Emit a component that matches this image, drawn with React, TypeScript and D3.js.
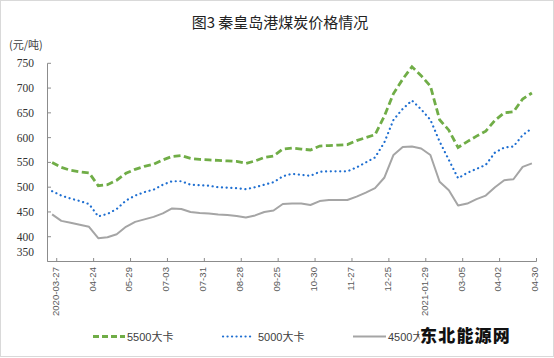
import React from "react";
import * as d3 from "d3";

const dates = [
  "2020-03-27", "", "", "", "04-24", "", "", "", "05-29", "", "", "", "07-03", "", "", "", "07-31", "", "", "", "08-28", "", "", "", "09-25", "", "", "", "10-30", "", "", "", "11-27", "", "", "", "12-25", "", "", "", "2021-01-29", "", "", "", "03-05", "", "", "", "04-02", "", "", "", "04-30",
];

const s5500 = [
  550, 540, 534, 531, 529, 503, 505, 514, 528, 536, 542, 546, 555, 562, 564, 558, 556, 555, 554, 553, 552, 548, 553, 560, 563, 577, 579, 577,
  575, 583, 584, 585, 586, 594, 600, 606, 643, 689, 718, 743, 725, 704, 636, 615, 580, 592, 603, 613, 635, 650, 652, 678, 690,
];

const s5000 = [
  492, 483, 477, 472, 466, 441, 446, 456, 473, 483, 490, 495, 505, 512, 512, 505, 504, 503, 500, 499, 498, 496, 500, 505, 510, 522, 527, 525,
  523, 531, 532, 532, 532, 540, 550, 560, 590, 636, 658, 675, 657, 636, 592, 555, 518, 529, 537, 545, 570, 580, 582, 605, 619,
];

const s4500 = [
  445, 432, 428, 424, 420, 397, 399, 405, 420, 430, 435, 440, 447, 457, 456, 450, 448, 447, 445, 444, 442, 439, 443, 450, 453, 466, 467, 467,
  464, 472, 474, 474, 474, 481, 489, 498, 519, 565, 581, 582, 578, 565, 511, 494, 463, 467, 476, 483, 500, 514, 516, 541, 548,
];

const yTicks = [350, 400, 450, 500, 550, 600, 650, 700, 750];

const seriesNames = ["5500大卡", "5000大卡", "4500大卡"];

export default function App() {
  const W = 554;
  const H = 358;
  const idx = d3.range(dates.length);
  const x = d3.scaleBand<number>().domain(idx).range([47.5, 536.5]).padding(0);
  const bw = x.bandwidth();
  const cx = (i: number) => (x(i) as number) + bw / 2;
  const y = d3.scaleLinear().domain([350, 750]).range([261.5, 63.3]);
  const line = d3
    .line<number>()
    .x((_, i) => cx(i))
    .y((d) => y(d));

  const axisColor = "#8c8c8c";
  const labelIdx = idx.filter((i) => dates[i] !== "");

  return (
    <svg width={W} height={H} style={{ position: "absolute", left: 0, top: 0, background: "#fff" }}>
      <defs>
        <clipPath id="legclip">
          <rect x={0} y={0} width={420} height={H} />
        </clipPath>
      </defs>
      <rect x={0.5} y={0.5} width={553} height={356} fill="#fff" stroke="#d9d9d9" />
      <text x={280} y={28} textAnchor="middle" fontSize={15} fontFamily="'Noto Sans CJK SC', sans-serif" fill="#222">
        图3 秦皇岛港煤炭价格情况
      </text>
      <text x={9} y={49} fontSize={11} fontFamily="'Noto Sans CJK SC', sans-serif" fill="#404040">
        (元/吨)
      </text>
      {/* y axis */}
      <line x1={47.5} x2={47.5} y1={y(750)} y2={y(350)} stroke={axisColor} strokeWidth={1} />
      {yTicks.map((t) => (
        <g key={t}>
          <line x1={47.5} x2={51} y1={y(t)} y2={y(t)} stroke={axisColor} />
          <text
            x={34}
            y={(t === 350 ? y(t) - 9.5 : y(t)) + 4}
            textAnchor="end"
            fontSize={11.5}
            fontFamily="'Liberation Serif', serif"
            fill="#333"
          >
            {t}
          </text>
        </g>
      ))}
      {/* x axis */}
      <line x1={47.5} x2={536.5} y1={261.5} y2={261.5} stroke={axisColor} />
      {labelIdx.map((i) => {
        const tx = (x(i) as number) + bw;
        return (
          <g key={i}>
            <line x1={tx} x2={tx} y1={261.5} y2={258} stroke={axisColor} />
            <text
              transform={`translate(${tx - 1.5},${267}) rotate(-90)`}
              textAnchor="end"
              dy="0.35em"
              fontSize={9.6}
              fontFamily="'Liberation Sans', sans-serif"
              fill="#595959"
            >
              {dates[i]}
            </text>
          </g>
        );
      })}
      {/* series */}
      <path d={line(s4500) || ""} fill="none" stroke="#a5a5a5" strokeWidth={2} strokeLinejoin="round" />
      <path d={line(s5000) || ""} fill="none" stroke="#1f6fd1" strokeWidth={2.2} strokeDasharray="0.1 4.6" strokeLinecap="round" />
      <path d={line(s5500) || ""} fill="none" stroke="#70ad47" strokeWidth={2.8} strokeDasharray="7 3.5" />
      {/* legend */}
      <g fontSize={11} fontFamily="'Liberation Sans', 'Noto Sans CJK SC', sans-serif" fill="#404040">
        <line x1={93} x2={125} y1={336.5} y2={336.5} stroke="#70ad47" strokeWidth={2.8} strokeDasharray="6 3" />
        <text x={127} y={340.5}>{seriesNames[0]}</text>
        <line x1={223} x2={254} y1={336.5} y2={336.5} stroke="#1f6fd1" strokeWidth={2.2} strokeDasharray="0.1 4.4" strokeLinecap="round" />
        <text x={258} y={340.5}>{seriesNames[1]}</text>
        <line x1={353} x2={386} y1={336.5} y2={336.5} stroke="#a5a5a5" strokeWidth={2} />
        <text x={388} y={340.5} clipPath="url(#legclip)">{seriesNames[2]}</text>
      </g>
      {/* watermark */}
      <rect x={419.5} y={325} width={92} height={22} fill="#fff" />
      <text x={420} y={342} fontSize={17} fontWeight={900} letterSpacing={1.2} fontFamily="'Noto Sans CJK SC', sans-serif" fill="#111">
        东北能源网
      </text>
    </svg>
  );
}
